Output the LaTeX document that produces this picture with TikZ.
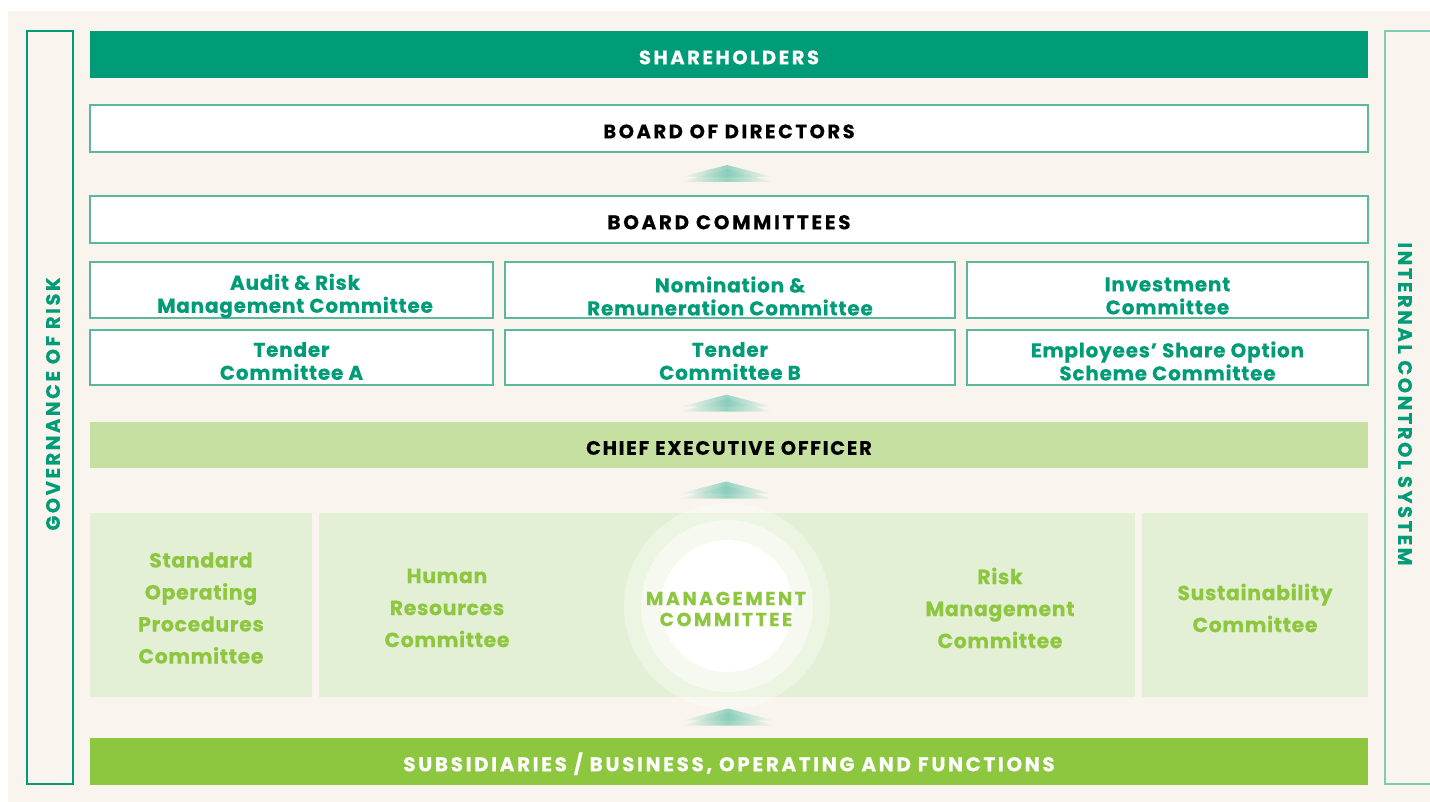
\documentclass[tikz,border=0pt]{standalone}
\usepackage{fontspec}
\setmainfont{Poppins}
\newfontfamily\capsfont{Poppins}[LetterSpace=13, BoldFeatures={FakeBold=0.2}]
\newfontfamily\ceofont{Poppins}[LetterSpace=9, BoldFeatures={FakeBold=0.2}]
\newfontfamily\comfont{Poppins}[LetterSpace=4, BoldFeatures={FakeBold=0.2}]
\newfontfamily\mgfont{Poppins}[LetterSpace=3, BoldFeatures={FakeBold=0.2}]
\usetikzlibrary{calc}
\definecolor{cream}{HTML}{F9F5EE}
\definecolor{dgreen}{HTML}{009B77}
\definecolor{bborder}{HTML}{5BB89C}
\definecolor{ceofill}{HTML}{C5E0A0}
\definecolor{mgfill}{HTML}{E4F0D6}
\definecolor{lgreen}{HTML}{8DC63F}
\definecolor{arrowc}{HTML}{86CDBB}
\definecolor{rbar}{HTML}{7FCBB5}
\tikzset{
  wide/.style={minimum width=1278pt, minimum height=47pt, inner sep=0pt, text height=19.6pt, text depth=0pt, font=\capsfont\bfseries\fontsize{19.5}{22}\selectfont},
  whitebox/.style={wide, fill=white, draw=bborder, line width=1.1pt, text=black},
  combox/.style={fill=white, draw=bborder, line width=1.1pt, inner sep=0pt},
  comtext/.style={text=dgreen, inner sep=0pt, align=center, font=\comfont\bfseries\fontsize{20}{23}\selectfont},
  mgbox/.style={fill=mgfill, draw=none, inner sep=0pt, minimum height=184pt},
  mgtext/.style={text=lgreen, inner sep=0pt, align=center, font=\mgfont\bfseries\fontsize{20.5}{32}\selectfont},
  sidebar/.style={draw=dgreen, line width=1.6pt, fill=cream},
  sidetext/.style={text=dgreen, font=\capsfont\bfseries\fontsize{19.5}{22}\selectfont},
  chev/.style={left color=cream, right color=cream, middle color=arrowc, draw=none, fill opacity=0.85},
}
\newcommand{\chevron}[1]{%
  \shade[chev] ($(#1)+(-46,3)$) -- ($(#1)+(0,-9)$) -- ($(#1)+(46,3)$) -- cycle;
  \shade[chev] ($(#1)+(-46,8)$) -- ($(#1)+(0,-5)$) -- ($(#1)+(46,8)$) -- cycle;
}
\begin{document}
\begin{tikzpicture}[x=1pt,y=-1pt]
\useasboundingbox (0,0) rectangle (1430,802);
\fill[white] (0,0) rectangle (1430,802);
\fill[cream] (8,11) rectangle (1430,802);
% side bars
\draw[sidebar] (27,31) rectangle (73,784);
\draw[sidebar, draw=rbar, line width=2.2pt] (1385,31) rectangle (1440,784);
\node[rotate=90, sidetext] (gov) at (53,404) {GOVERNANCE OF RISK};
\node[rotate=-90, sidetext] (ics) at (1405,404) {INTERNAL CONTROL SYSTEM};
% main stack
\node[wide, fill=dgreen, text=white] (sh) at (729,54.5) {SHAREHOLDERS};
\node[whitebox] (bod) at (729,128.5) {BOARD OF DIRECTORS};
\node[whitebox, font=\capsfont\bfseries\fontsize{20}{22}\selectfont] (bc) at (729,219.5) {BOARD COMMITTEES};
\node[combox, minimum width=403pt, minimum height=56pt] (arm) at (291.5,290) {};
\node[combox, minimum width=450pt, minimum height=56pt] (nrc) at (730,290) {};
\node[combox, minimum width=401pt, minimum height=56pt] (inv) at (1167.5,290) {};
\node[combox, minimum width=403pt, minimum height=55pt] (tca) at (291.5,357.5) {};
\node[combox, minimum width=450pt, minimum height=55pt] (tcb) at (730,357.5) {};
\node[combox, minimum width=401pt, minimum height=55pt] (esos) at (1167.5,357.5) {};
\node[comtext] (armt) at ($(arm)+(3.5,6)$) {Audit \& Risk\\Management Committee};
\node[comtext] (nrct) at ($(nrc)+(0,6)$) {Nomination \&\\Remuneration Committee};
\node[comtext] (invt) at ($(inv)+(0,6)$) {Investment\\Committee};
\node[comtext] (tcat) at ($(tca)+(0,3.5)$) {Tender\\Committee A};
\node[comtext] (tcbt) at ($(tcb)+(0,3.5)$) {Tender\\Committee B};
\node[comtext] (esost) at ($(esos)+(0,3.5)$) {Employees’ Share Option\\Scheme Committee};
\node[wide, fill=ceofill, text=black, minimum height=46pt, font=\ceofont\bfseries\fontsize{19.5}{22}\selectfont] (ceo) at (729,445) {CHIEF EXECUTIVE OFFICER};
% management area
\node[mgbox, minimum width=222pt] (sop) at (201,605) {};
\node[mgbox, minimum width=816pt] (mid) at (727,605) {};
\node[mgbox, minimum width=226pt] (sus) at (1255,605) {};
\fill[white, fill opacity=0.3] (727,606) circle[radius=103pt];
\fill[white, fill opacity=0.5] (727,606) circle[radius=86pt];
\fill[white] (727,606) circle[radius=66pt];
\node[mgtext] (sopt) at (201,608) {Standard\\Operating\\Procedures\\Committee};
\node[mgtext] (hrc) at (447,608) {Human\\Resources\\Committee};
\node[mgtext] (rmc) at (1000,608) {Risk\\Management\\Committee};
\node[mgtext] (sust) at (1255,608) {Sustainability\\Committee};
\node[text=lgreen, align=center, font=\capsfont\bfseries\fontsize{19}{21}\selectfont] (mc) at (726,609) {MANAGEMENT\\COMMITTEE};
\node[wide, fill=lgreen, text=white, font=\capsfont\bfseries\fontsize{20}{22}\selectfont] (sub) at (729,761.5) {SUBSIDIARIES / BUSINESS, OPERATING AND FUNCTIONS};
% chevrons between levels
\coordinate (a1) at ($(bod.south)!0.5!(bc.north)+(-2,0)$);
\coordinate (a2) at ($(tcb.south)!0.5!(ceo.north)+(-3,0)$);
\coordinate (a3) at ($(ceo.south)!0.5!(mid.north)+(-2,0)$);
\coordinate (a4) at ($(mid.south)!0.5!(sub.north)+(0,0)$);
\chevron{a1}
\chevron{a2}
\chevron{a3}
\chevron{a4}
\end{tikzpicture}
\end{document}
